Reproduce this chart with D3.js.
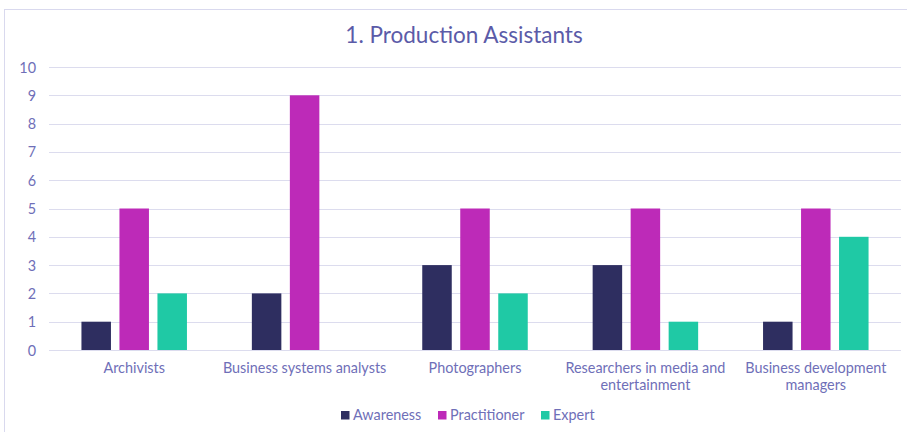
<!DOCTYPE html>
<html><head><meta charset="utf-8">
<script src="https://cdn.jsdelivr.net/npm/d3@7"></script>
<style>body{margin:0;background:#fff}svg{display:block}text{font-family:Lato,"Open Sans",sans-serif}</style>
</head><body>
<script>
const categories = [["Archivists"], ["Business systems analysts"], ["Photographers"], ["Researchers in media and", "entertainment"], ["Business development", "managers"]];
const seriesNames = ["Awareness", "Practitioner", "Expert"];
const awareness = [1, 2, 3, 3, 1];
const practitioner = [5, 9, 5, 5, 5];
const expert = [2, 0, 2, 1, 4];
const yTicks = [0,1,2,3,4,5,6,7,8,9,10];
const colors = ["#2e2e60", "#bd2ab8", "#1fc9a5"];
const series = [awareness, practitioner, expert];

const W = 907, H = 432;
const svg = d3.select("body").append("svg").attr("width", W).attr("height", H);
svg.append("rect").attr("x", 4.5).attr("y", 9.5).attr("width", 920).attr("height", 440)
  .attr("fill", "#fff").attr("stroke", "#d9d9ee").attr("stroke-width", 1);

svg.append("text").attr("x", 464).attr("y", 43).attr("text-anchor", "middle")
  .attr("font-size", 22.5).attr("fill", "#5b5ba8").text("1. Production Assistants");

const x0 = d3.scaleBand().domain(d3.range(categories.length)).range([49, 901]).paddingInner(0).paddingOuter(0);
const y = d3.scaleLinear().domain([0, 10]).range([350, 67]);

const grid = svg.append("g");
grid.selectAll("line").data(yTicks).join("line")
  .attr("x1", 49).attr("x2", 901).attr("y1", d => Math.round(y(d)) + 0.5).attr("y2", d => Math.round(y(d)) + 0.5)
  .attr("stroke", "#dcdcee").attr("stroke-width", 1);

const yAxis = d3.axisLeft(y).tickValues(yTicks).tickSize(0).tickPadding(0);
const ya = svg.append("g").attr("transform", "translate(36,0)").call(yAxis);
ya.select(".domain").remove();
ya.selectAll("text").attr("font-size", 14.4).attr("fill", "#6f6fb8").attr("text-anchor", "end").attr("dy", "0.35em");

const barW = 29.5, gap = 8.5;
const x1 = d3.scaleBand().domain(d3.range(3)).range([-(3*barW+2*gap)/2, (3*barW+2*gap)/2]).paddingInner(gap/(barW+gap)).paddingOuter(0);

const groups = svg.append("g").selectAll("g").data(categories).join("g")
  .attr("transform", (d, i) => `translate(${x0(i) + x0.bandwidth()/2},0)`);
groups.selectAll("rect").data((d, i) => series.map((s, j) => ({j, v: s[i]}))).join("rect")
  .filter(d => d.v > 0)
  .attr("x", d => x1(d.j)).attr("width", x1.bandwidth())
  .attr("y", d => y(d.v)).attr("height", d => y(0) - y(d.v))
  .attr("fill", d => colors[d.j]);

const xAxis = d3.axisBottom(x0).tickSize(0).tickFormat("");
const xa = svg.append("g").attr("transform", "translate(0,350)").call(xAxis);
xa.select(".domain").remove();
groups.each(function(d, i) {
  const t = d3.select(this).append("text").attr("text-anchor", "middle").attr("font-size", 14.4).attr("fill", "#6f6fb8");
  d.forEach((line, k) => t.append("tspan").attr("x", 0).attr("y", 373 + k * 17).text(line));
});

const legendX = [341, 438, 541];
const lg = svg.append("g").selectAll("g").data(seriesNames).join("g")
  .attr("transform", (d, i) => `translate(${legendX[i]},0)`);
lg.append("rect").attr("x", 0).attr("y", 411).attr("width", 8.5).attr("height", 8.5).attr("fill", (d, i) => colors[i]);
lg.append("text").attr("x", 12).attr("y", 420).attr("font-size", 14.4).attr("fill", "#6f6fb8").text(d => d);
</script>
</body></html>
